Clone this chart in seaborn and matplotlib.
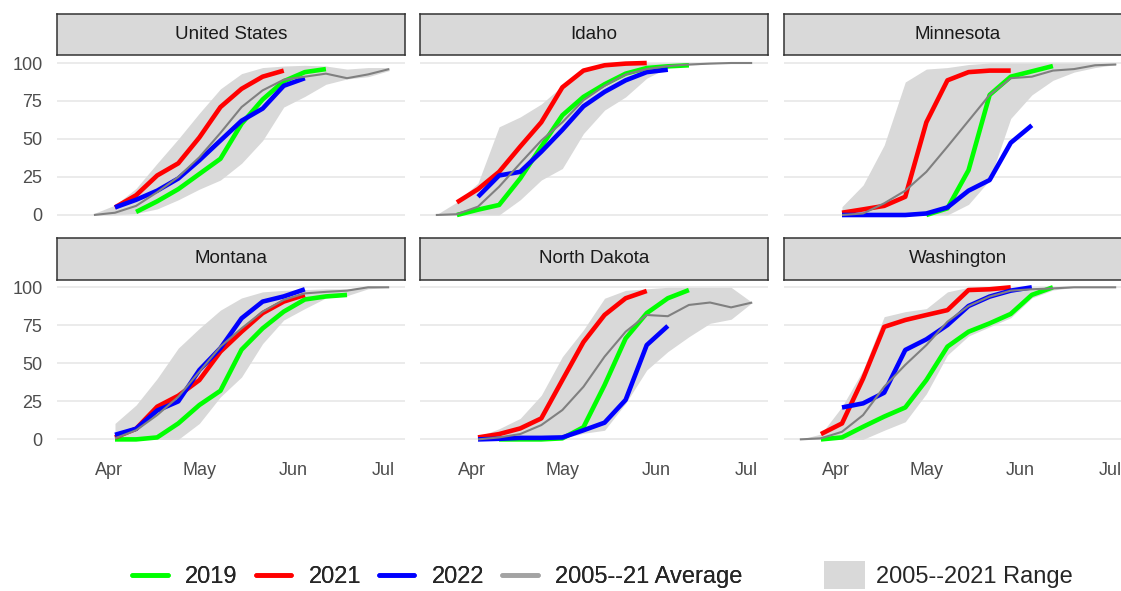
import numpy as np
import pandas as pd
import matplotlib
matplotlib.use("Agg")
import matplotlib.pyplot as plt
from matplotlib.lines import Line2D
from matplotlib.patches import Patch
import seaborn as sns

# Weekly report dates (plotted on a common calendar year)
weeks = pd.date_range("2022-03-20", periods=16, freq="7D")
N = None

states = ["United States", "Idaho", "Minnesota", "Montana", "North Dakota", "Washington"]

# Percent planted, one entry per week (None = no report)
us_2019 = [N, N, N, 2, 9, 17, 27, 37, 60, 76, 88, 94, 96, N, N, N]
us_2021 = [N, N, 5, 13, 26, 34, 51, 71, 83, 91, 95, N, N, N, N, N]
us_2022 = [N, N, 5, 10, 16, 24, 36, 49, 62, 70, 85, 90, N, N, N, N]
us_avg = [N, 0, 1.5, 6, 15, 25, 38, 54, 71, 82, 89, 91, 93, 90, 92.5, 96]
us_lo = [N, 0, 0, 1, 4, 10, 17, 23, 34, 49, 71, 78, 86, 89.5, 91, 95]
us_hi = [N, 1, 6.5, 17.5, 34, 50, 67, 83, 93, 97, 98, 98.5, 98, 96, 97, 97]

id_2019 = [N, 0, 3.5, 6.6, 24, 45, 65.6, 77.7, 86, 93, 96.7, 97.8, 98.5, N, N, N]
id_2021 = [N, 8.3, 17, 28.4, 45, 61, 84, 95, 98.5, 99.6, 100, N, N, N, N, N]
id_2022 = [N, N, 12, 26, 28.4, 41.6, 56, 71.5, 81, 88.6, 94, 95.6, N, N, N, N]
id_avg = [0, 0.5, 5.5, 18.6, 34, 49, 61, 75.5, 85, 92.5, 96, 98, 99, 99.6, 100, 100]
id_lo = [0, 0, 0, 0, 10, 23, 30.6, 53.6, 69, 77.7, 90, 97, 98.5, 99.5, 100, 100]
id_hi = [0, 8.5, 21, 58, 64.5, 73, 85, 95, 98.5, 99.5, 100, 100, 100, 100, 100, 100]

mn_2019 = [N, N, N, N, N, N, 0, 4.4, 29.5, 79, 91, 94.5, 98, N, N, N]
mn_2021 = [N, N, 1.5, 3.7, 6, 12, 61, 88.6, 94, 95, 95, N, N, N, N, N]
mn_2022 = [N, N, 0, 0, 0, 0, 1, 5, 16, 23, 47.5, 59, N, N, N, N]
mn_avg = [N, N, 0, 1, 7.7, 16, 28.4, 45, 62, 79, 90, 91, 95, 96, 98.5, 99]
mn_lo = [N, N, 0, 0, 0, 0, 0, 0, 7, 23, 63.5, 79, 88.6, 94, 97, 99]
mn_hi = [N, N, 5.5, 19.7, 46, 87.5, 96, 97, 99, 100, 100, 100, 100, 100, 100, 100]

mt_2019 = [N, N, 0, 0, 1.3, 10.5, 22.6, 32, 59, 73, 84, 92, 94, 95, N, N]
mt_2021 = [N, N, 1.3, 7, 21.5, 28.7, 39, 57.7, 70.8, 83, 90.6, 95, N, N, N, N]
mt_2022 = [N, N, 3, 7, 19, 25, 45.6, 60, 79.6, 90.6, 94, 98.7, N, N, N, N]
mt_avg = [N, N, 0.7, 6, 16, 28, 44.5, 61, 73, 84, 91.7, 96, 97, 97.8, 100, 100]
mt_lo = [N, N, 0, 0, 0, 0, 10.5, 28, 41, 63, 78.5, 86, 93, 94.5, 99, 100]
mt_hi = [N, N, 10.5, 22.6, 40, 60, 73, 85, 93, 97, 98, 98.5, 99, 99, 100, 100]

nd_2019 = [N, N, N, 0, 0, 0, 0.7, 8, 35.7, 66.4, 83, 92.8, 98.2, N, N, N]
nd_2021 = [N, N, 1.3, 3.5, 7.2, 13.8, 39, 64, 81.8, 92.8, 97.6, N, N, N, N, N]
nd_2022 = [N, N, 0, 0.4, 1, 1, 1.3, 6, 11, 26, 62, 74.6, N, N, N, N]
nd_avg = [N, N, 0, 1.3, 3.5, 9.4, 19.3, 34.6, 54.4, 70.8, 81.8, 81, 88.4, 90, 86.8, 90]
nd_lo = [N, N, 0, 0, 0, 0, 0.7, 4, 6, 23.7, 45.6, 57.7, 67.5, 76.3, 79, 90]
nd_hi = [N, N, 1.8, 7, 13.8, 29, 54.4, 72, 92.8, 98, 99, 100, 100, 100, 100, 90]

wa_2019 = [N, 0, 1.3, 8.3, 15, 21, 39, 61, 70.8, 76.3, 82.5, 95, 100, N, N, N]
wa_2021 = [N, 3.5, 10.5, 40, 74, 78.5, 81.8, 85, 98.2, 98.7, 100, N, N, N, N, N]
wa_2022 = [N, N, 21, 23.7, 30.7, 58.8, 65.8, 75.2, 87.7, 93.9, 97.8, 100, N, N, N, N]
wa_avg = [0, 0.7, 5, 16, 34.6, 49, 62, 77.4, 87.7, 93.9, 97.8, 98.7, 99.3, 100, 100, 100]
wa_lo = [0, 0, 0, 0, 6, 11.6, 30, 55.5, 68, 74, 80, 93, 98.2, 100, 100, 100]
wa_hi = [0, 3.5, 21.5, 45.6, 80.7, 84, 86, 97, 100, 100, 100, 100, 100, 100, 100, 100]

series_labels = ["2019", "2021", "2022", "2005--21 Average"]
band_label = "2005--2021 Range"
colors = {"2019": "#00FF00", "2021": "#FF0000", "2022": "#0000FF", "2005--21 Average": "#808080"}
widths = {"2019": 3.3, "2021": 3.3, "2022": 3.3, "2005--21 Average": 1.5}

state_data = {
    "United States": (us_2019, us_2021, us_2022, us_avg, us_lo, us_hi),
    "Idaho": (id_2019, id_2021, id_2022, id_avg, id_lo, id_hi),
    "Minnesota": (mn_2019, mn_2021, mn_2022, mn_avg, mn_lo, mn_hi),
    "Montana": (mt_2019, mt_2021, mt_2022, mt_avg, mt_lo, mt_hi),
    "North Dakota": (nd_2019, nd_2021, nd_2022, nd_avg, nd_lo, nd_hi),
    "Washington": (wa_2019, wa_2021, wa_2022, wa_avg, wa_lo, wa_hi),
}

month_ticks = pd.to_datetime(["2022-04-01", "2022-05-01", "2022-06-01", "2022-07-01"])
month_labels = ["Apr", "May", "Jun", "Jul"]
y_ticks = [0, 25, 50, 75, 100]

sns.set_theme(style="white")
plt.rcParams["font.family"] = ["Liberation Sans", "DejaVu Sans"]

W, H = 1121, 591
fig = plt.figure(figsize=(W / 100, H / 100), dpi=100)

# panel geometry in pixels
lefts = [57, 420, 784]
pw = 348
rows = [(55.4, 222.6, 14, 55), (279.7, 447, 238, 279.7)]

span = weeks[-1] - weeks[0]
pad = span * 0.05
xlim = (weeks[0] - pad, weeks[-1] + pad)

for i, state in enumerate(states):
    r, c = divmod(i, 3)
    top, bot, s_top, s_bot = rows[r]
    x0 = lefts[c]
    ax = fig.add_axes([x0 / W, 1 - bot / H, pw / W, (bot - top) / H])
    y2019, y2021, y2022, yavg, ylo, yhi = state_data[state]

    lo = np.array([np.nan if v is None else v for v in ylo], dtype=float)
    hi = np.array([np.nan if v is None else v for v in yhi], dtype=float)
    ok = ~np.isnan(lo)
    ax.fill_between(weeks[ok], lo[ok], hi[ok], color="#D9D9D9", linewidth=0, zorder=1)

    for lab, vals in zip(series_labels, (y2019, y2021, y2022, yavg)):
        d = pd.DataFrame({"week": weeks, "pct": [np.nan if v is None else v for v in vals]}).dropna()
        sns.lineplot(data=d, x="week", y="pct", color=colors[lab], linewidth=widths[lab],
                     ax=ax, errorbar=None, solid_capstyle="butt",
                     zorder=3 if lab != "2005--21 Average" else 4)

    ax.set_xlim(*xlim)
    ax.set_ylim(-5, 105)
    ax.set_yticks(y_ticks)
    ax.set_xticks(month_ticks)
    ax.set_xlabel("")
    ax.set_ylabel("")
    ax.grid(axis="y", color="#EBEBEB", linewidth=1.4, zorder=0)
    ax.grid(axis="x", visible=False)
    ax.set_axisbelow(True)
    for s in ax.spines.values():
        s.set_visible(False)
    ax.tick_params(length=0, labelsize=13, colors="#4D4D4D", pad=10.5)
    if r == 1:
        ax.set_xticklabels(month_labels)
    else:
        ax.set_xticklabels([])
    if c == 0:
        ax.set_yticklabels([str(t) for t in y_ticks])
    else:
        ax.set_yticklabels([])

    # facet strip
    sax = fig.add_axes([x0 / W, 1 - s_bot / H, pw / W, (s_bot - s_top) / H])
    sax.set_facecolor("#D9D9D9")
    sax.set_xticks([])
    sax.set_yticks([])
    for s in sax.spines.values():
        s.set_visible(True)
        s.set_color("#333333")
        s.set_linewidth(1.1)
    sax.text(0.5, 0.5, state, ha="center", va="center", fontsize=13.5, color="#1A1A1A",
             transform=sax.transAxes)

line_handles = [Line2D([0], [0], color=colors[l] if l != "2005--21 Average" else "#A3A3A3",
                       linewidth=3.3) for l in series_labels]
leg1 = fig.legend(line_handles, series_labels, loc="center", bbox_to_anchor=(437.5 / W, 1 - 577 / H),
                  ncol=4, frameon=False, fontsize=17, handlelength=1.5, handletextpad=0.75,
                  columnspacing=0.75, borderpad=0)
leg2 = fig.legend([Patch(facecolor="#D9D9D9", edgecolor="none")], [band_label], loc="center",
                  bbox_to_anchor=(948 / W, 1 - 575 / H), frameon=False, fontsize=17,
                  handlelength=1.75, handleheight=1.46, handletextpad=0.46, borderpad=0)
fig.add_artist(leg1)

fig.savefig("out.png", dpi=100)
